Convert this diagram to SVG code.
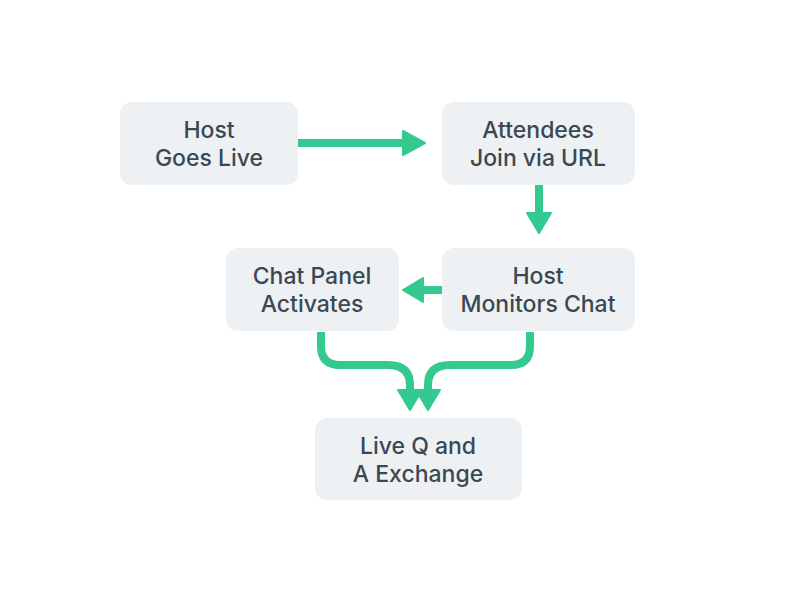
<svg xmlns="http://www.w3.org/2000/svg" width="800" height="600" viewBox="0 0 800 600">
<style>
.n{fill:#eef1f4}
.t{font-family:Inter,"Liberation Sans",sans-serif;font-size:23px;font-weight:500;fill:#3b4852;text-anchor:middle}
.c{fill:none;stroke:#34c98e;stroke-width:8;stroke-linejoin:round}
.h{fill:#34c98e;stroke:#34c98e;stroke-width:2;stroke-linejoin:round}
</style>
<rect width="800" height="600" fill="#ffffff"/>
<g id="connectors">
<path class="c" d="M298,143 H406"/><polygon class="h" points="403,131 425,143 403,155"/>
<path class="c" d="M539,185 V215"/><polygon class="h" points="527,213 539,233 551,213"/>
<path class="c" d="M442,290 H421"/><polygon class="h" points="423,278 403,290 423,302"/>
<path class="c" d="M321,332 V346 Q321,365 340,365 H388 Q410,365 410,385 V392"/><polygon class="h" points="398,390 410,410 422,390"/>
<path class="c" d="M530,332 V346 Q530,365 511,365 H450 Q428,365 428,385 V392"/><polygon class="h" points="416,390 428,410 440,390"/>
</g>
<g id="n1"><rect class="n" x="120" y="102" width="178" height="83" rx="12"/><text class="t" x="209" y="138">Host</text><text class="t" x="209" y="166">Goes Live</text></g>
<g id="n2"><rect class="n" x="442" y="102" width="193" height="83" rx="12"/><text class="t" x="538" y="138">Attendees</text><text class="t" x="538" y="166">Join via URL</text></g>
<g id="n3"><rect class="n" x="226" y="248" width="173" height="83" rx="12"/><text class="t" x="312" y="284">Chat Panel</text><text class="t" x="312" y="312">Activates</text></g>
<g id="n4"><rect class="n" x="442" y="248" width="193" height="83" rx="12"/><text class="t" x="538" y="284">Host</text><text class="t" x="538" y="312">Monitors Chat</text></g>
<g id="n5"><rect class="n" x="315" y="418" width="207" height="82" rx="12"/><text class="t" x="418" y="454">Live Q and</text><text class="t" x="418" y="482">A Exchange</text></g>
</svg>
